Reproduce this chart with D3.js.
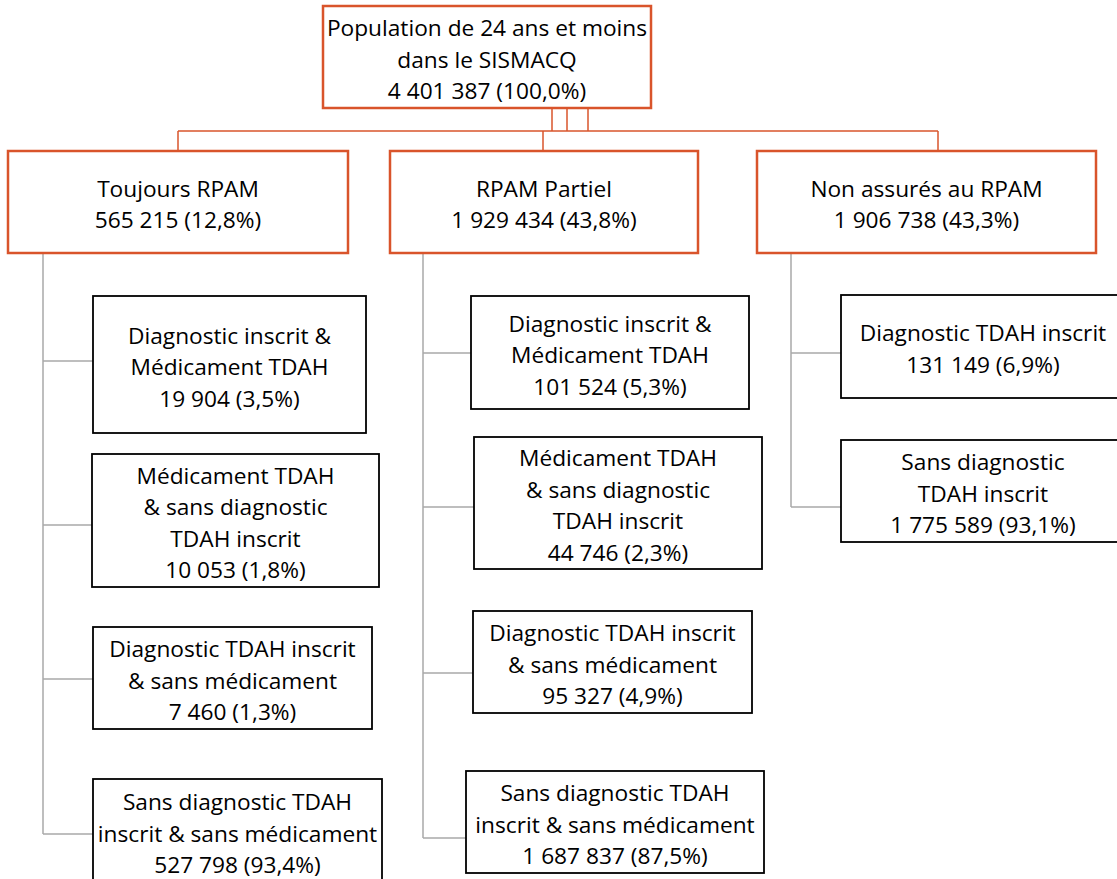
<!DOCTYPE html>
<html>
<head>
<meta charset="utf-8">
<script src="https://cdn.jsdelivr.net/npm/d3@7"></script>
<style>
  html, body { margin: 0; padding: 0; background: #ffffff; }
  svg { display: block; }
  text { font-family: "Open Sans", "Noto Sans", sans-serif; fill: #000; }
</style>
</head>
<body>
<svg id="chart" width="1117" height="879"></svg>
<script>
// ---------------- DATA ----------------
const rootLines = ["Population de 24 ans et moins", "dans le SISMACQ"];
const rootValue = 4401387;
const rootPct = 100.0;

const groupNames = ["Toujours RPAM", "RPAM Partiel", "Non assurés au RPAM"];
const groupValues = [565215, 1929434, 1906738];
const groupPcts = [12.8, 43.8, 43.3];

const leafLines0 = [
  ["Diagnostic inscrit &", "Médicament TDAH"],
  ["Médicament TDAH", "& sans diagnostic", "TDAH inscrit"],
  ["Diagnostic TDAH inscrit", "& sans médicament"],
  ["Sans diagnostic TDAH", "inscrit & sans médicament"]
];
const leafValues0 = [19904, 10053, 7460, 527798];
const leafPcts0 = [3.5, 1.8, 1.3, 93.4];

const leafLines1 = [
  ["Diagnostic inscrit &", "Médicament TDAH"],
  ["Médicament TDAH", "& sans diagnostic", "TDAH inscrit"],
  ["Diagnostic TDAH inscrit", "& sans médicament"],
  ["Sans diagnostic TDAH", "inscrit & sans médicament"]
];
const leafValues1 = [101524, 44746, 95327, 1687837];
const leafPcts1 = [5.3, 2.3, 4.9, 87.5];

const leafLines2 = [
  ["Diagnostic TDAH inscrit"],
  ["Sans diagnostic", "TDAH inscrit"]
];
const leafValues2 = [131149, 1775589];
const leafPcts2 = [6.9, 93.1];

// ---------------- LAYOUT (geometry only) ----------------
const rootBox = {x: 323, y: 6, w: 328, h: 102};
const groupBoxX = [8, 390, 757];
const groupBoxW = [340, 308, 339];
const groupBoxY = 151, groupBoxH = 102;
const busY = 131;
const busDropX = [178, 543, 938];          // where each group hangs from the bus
const rootStubX = [552, 567, 588];         // short stubs under the root box
const spineX = [43, 423, 791];             // grey vertical spine of each group
const leafGeom = [
  [[93, 296, 273, 137, 361], [92, 454, 287, 133, 525], [93, 627, 279, 102, 679], [93, 779, 289, 104, 834]],
  [[471, 296, 278, 113, 353], [474, 437, 288, 132, 507], [473, 611, 279, 102, 673], [466, 771, 298, 102, 838]],
  [[841, 295, 284, 103, 353], [841, 440, 284, 102, 507]]
];

const ORANGE = "#D9542B";
const GREY = "#A9A9A9";
const FONT_SIZE = 22.7;
const LINE_H = 31.5;

// ---------------- FORMATTING ----------------
const loc = d3.formatLocale({decimal: ",", thousands: "\u00a0", grouping: [3], currency: ["", ""]});
const fmtN = loc.format(",d");
const fmtP = loc.format(".1f");
const valueLine = (v, p) => `${fmtN(v)} (${fmtP(p)}%)`;

// ---------------- HIERARCHY ----------------
const leafSets = [
  {lines: leafLines0, values: leafValues0, pcts: leafPcts0},
  {lines: leafLines1, values: leafValues1, pcts: leafPcts1},
  {lines: leafLines2, values: leafValues2, pcts: leafPcts2}
];
const treeData = {
  lines: [...rootLines, valueLine(rootValue, rootPct)],
  children: groupNames.map((g, i) => ({
    lines: [g, valueLine(groupValues[i], groupPcts[i])],
    gi: i,
    children: leafSets[i].lines.map((ls, j) => ({
      lines: [...ls, valueLine(leafSets[i].values[j], leafSets[i].pcts[j])],
      gi: i, li: j
    }))
  }))
};
const root = d3.hierarchy(treeData);

// assign geometry
root.each(n => {
  if (n.depth === 0) n.box = rootBox;
  else if (n.depth === 1) n.box = {x: groupBoxX[n.data.gi], y: groupBoxY, w: groupBoxW[n.data.gi], h: groupBoxH};
  else {
    const g = leafGeom[n.data.gi][n.data.li];
    n.box = {x: g[0], y: g[1], w: g[2], h: g[3], cy: g[4]};
  }
});

const svg = d3.select("#chart");
const gLinks = svg.append("g");
const gNodes = svg.append("g");

// orange connectors root -> groups
const rb = root.box;
rootStubX.forEach(x => {
  gLinks.append("line").attr("x1", x).attr("x2", x).attr("y1", rb.y + rb.h).attr("y2", busY)
    .attr("stroke", ORANGE).attr("stroke-width", 1.5);
});
gLinks.append("line").attr("x1", d3.min(busDropX)).attr("x2", d3.max(busDropX))
  .attr("y1", busY).attr("y2", busY).attr("stroke", ORANGE).attr("stroke-width", 1.5);
root.children.forEach(c => {
  const x = busDropX[c.data.gi];
  gLinks.append("line").attr("x1", x).attr("x2", x).attr("y1", busY).attr("y2", c.box.y)
    .attr("stroke", ORANGE).attr("stroke-width", 1.5);
});

// grey connectors groups -> leaves
root.children.forEach(c => {
  const sx = spineX[c.data.gi];
  const lastY = d3.max(c.children, l => l.box.cy);
  gLinks.append("line").attr("x1", sx).attr("x2", sx).attr("y1", c.box.y + c.box.h).attr("y2", lastY)
    .attr("stroke", GREY).attr("stroke-width", 1.5);
  c.children.forEach(l => {
    gLinks.append("line").attr("x1", sx).attr("x2", l.box.x).attr("y1", l.box.cy).attr("y2", l.box.cy)
      .attr("stroke", GREY).attr("stroke-width", 1.5);
  });
});

// boxes
const nodes = gNodes.selectAll("g.node").data(root.descendants()).join("g").attr("class", "node");
nodes.append("rect")
  .attr("x", d => d.box.x).attr("y", d => d.box.y)
  .attr("width", d => d.box.w).attr("height", d => d.box.h)
  .attr("fill", "#fff")
  .attr("stroke", d => d.depth < 2 ? ORANGE : "#000")
  .attr("stroke-width", d => d.depth < 2 ? 2.5 : 1.8);

nodes.each(function(d) {
  const n = d.data.lines.length;
  const cx = d.box.x + d.box.w / 2;
  const cy = d.box.y + d.box.h / 2 + 2;
  d3.select(this).selectAll("text").data(d.data.lines).join("text")
    .attr("x", cx)
    .attr("y", (t, i) => cy + (i - (n - 1) / 2) * LINE_H)
    .attr("text-anchor", "middle")
    .attr("dominant-baseline", "central")
    .attr("font-size", FONT_SIZE)
    .text(t => t);
});
</script>
</body>
</html>
